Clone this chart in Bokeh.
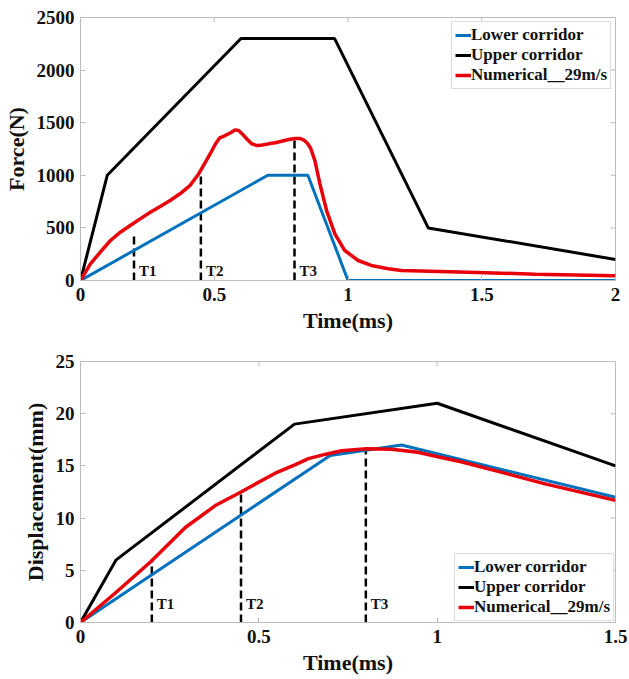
from bokeh.plotting import figure
from bokeh.layouts import column
from bokeh.models import FixedTicker, Legend, LegendItem, Range1d
from bokeh.core.properties import value
from bokeh.embed import file_html
from bokeh.resources import INLINE
import math

# ---- Force history (N) vs time (ms) ----
force_lower_t = [0, 0.7, 0.85, 1.0, 2.0]
force_lower_f = [0, 1000, 1000, 0, 0]
force_upper_t = [0, 0.1, 0.6, 0.95, 1.3, 2.0]
force_upper_f = [0, 1000, 2300, 2300, 500, 200]
force_num_t = [0, 0.037, 0.074, 0.112, 0.149, 0.186, 0.223, 0.261, 0.298, 0.335,
               0.372, 0.41, 0.441, 0.466, 0.486, 0.505, 0.52, 0.535, 0.55, 0.566,
               0.578, 0.591, 0.606, 0.622, 0.64, 0.659, 0.68, 0.703, 0.728, 0.752,
               0.778, 0.802, 0.82, 0.835, 0.848, 0.86, 0.876, 0.895, 0.92, 0.951,
               0.988, 1.038, 1.087, 1.15, 1.2, 1.45, 1.7, 2.0]
force_num_f = [0, 158, 269, 380, 459, 523, 586, 649, 703, 760,
               824, 905, 1010, 1120, 1210, 1300, 1355, 1370, 1390, 1412,
               1432, 1426, 1390, 1345, 1300, 1283, 1288, 1299, 1310, 1324,
               1340, 1350, 1350, 1335, 1305, 1260, 1141, 919, 665, 444,
               285, 190, 143, 112, 95, 79, 60, 45]

# ---- Displacement history (mm) vs time (ms) ----
disp_lower_t = [0, 0.7, 0.9, 1.5]
disp_lower_d = [0, 16, 17, 12]
disp_upper_t = [0, 0.1, 0.6, 1.0, 1.5]
disp_upper_d = [0, 6, 19, 21, 15]
disp_num_t = [0, 0.1, 0.196, 0.294, 0.378, 0.45, 0.546, 0.601, 0.639, 0.685,
              0.732, 0.802, 0.872, 0.946, 1.011, 1.067, 1.179, 1.3, 1.5]
disp_num_d = [0, 2.9, 5.8, 9.1, 11.2, 12.5, 14.3, 15.1, 15.7, 16.1,
              16.45, 16.65, 16.6, 16.3, 15.8, 15.4, 14.4, 13.3, 11.7]

# ---- Time instants T1..T3 ----
marker_t = [0.2, 0.45, 0.8]
marker_labels = ["T1", "T2", "T3"]
force_marker_top = [420, 1030, 1350]
disp_marker_top = [5.8, 12.4, 16.6]

# ---- Ticks ----
force_xticks = [0, 0.5, 1, 1.5, 2]
force_xlabels = ["0", "0.5", "1", "1.5", "2"]
force_yticks = [0, 500, 1000, 1500, 2000, 2500]
force_ylabels = ["0", "500", "1000", "1500", "2000", "2500"]
disp_xticks = [0, 0.5, 1, 1.5]
disp_xlabels = ["0", "0.5", "1", "1.5"]
disp_yticks = [0, 5, 10, 15, 20, 25]
disp_ylabels = ["0", "5", "10", "15", "20", "25"]

series_names = ["Lower corridor", "Upper corridor", "Numerical__29m/s"]
series_colors = ["#0072BD", "#000000", "#E8000B"]
series_widths = [3, 3, 3.5]

FONT = "Liberation Serif"
EDGE = "#bcbcbc"


def style_axis(axis, ticks, labels):
    axis.ticker = FixedTicker(ticks=ticks)
    axis.major_label_overrides = {t: l for t, l in zip(ticks, labels)}
    axis.minor_tick_line_color = None
    axis.major_tick_in = 5
    axis.major_tick_out = 0
    axis.major_tick_line_color = EDGE
    axis.axis_line_color = EDGE
    axis.major_label_text_font = FONT
    axis.major_label_text_font_style = "bold"
    axis.major_label_text_color = "#111111"
    axis.major_label_text_font_size = "19px"
    axis.axis_label_text_font = FONT
    axis.axis_label_text_font_style = "bold"
    axis.axis_label_text_font_size = "22px"
    axis.axis_label_text_color = "#111111"


def make_panel(x_end, y_end, xticks, xlabels, yticks, ylabels, ylabel,
               height, top_border, bottom_border,
               series, marker_top, label_y, legend_loc, legend_margin):
    p = figure(width=629, height=height,
               x_range=Range1d(0, x_end), y_range=Range1d(0, y_end),
               output_backend="svg", toolbar_location=None,
               min_border_left=78, min_border_right=14,
               min_border_top=top_border, min_border_bottom=bottom_border)
    p.grid.visible = False
    p.outline_line_color = EDGE
    p.background_fill_color = "white"
    p.border_fill_color = "white"

    style_axis(p.xaxis[0], xticks, xlabels)
    style_axis(p.yaxis[0], yticks, ylabels)
    p.xaxis[0].axis_label = "Time(ms)"
    p.xaxis[0].major_label_standoff = 7
    p.xaxis[0].axis_label_standoff = 4
    p.yaxis[0].axis_label = ylabel
    p.yaxis[0].major_label_standoff = 6
    p.yaxis[0].axis_label_standoff = 5

    # inward tick marks on the top and right edges of the box
    # (dash markers centred on the edge; the outer half is clipped by the frame)
    p.scatter(x=xticks, y=[y_end] * len(xticks), marker="dash", size=10,
              angle=math.pi / 2, line_color=EDGE, line_width=1)
    p.scatter(x=[x_end] * len(yticks), y=yticks, marker="dash", size=10,
              line_color=EDGE, line_width=1)

    # dashed markers for T1..T3
    p.segment(x0=marker_t, y0=[0] * len(marker_t), x1=marker_t, y1=marker_top,
              line_color="black", line_width=2.5, line_dash="8 4")
    p.text(x=marker_t, y=[label_y] * len(marker_t), text=marker_labels,
           x_offset=5, text_baseline="middle", text_align="left",
           text_font=value(FONT), text_font_style="bold",
           text_font_size="15px", text_color="#111111")

    items = []
    for (tx, ty), name, color, w in zip(series, series_names, series_colors, series_widths):
        r = p.line(tx, ty, line_color=color, line_width=w)
        items.append(LegendItem(label=name, renderers=[r]))

    legend = Legend(items=items, location=legend_loc)
    legend.margin = legend_margin
    legend.padding = 3
    legend.spacing = 0
    legend.glyph_width = 16
    legend.glyph_height = 20
    legend.label_height = 20
    legend.label_standoff = 0
    legend.label_text_font = FONT
    legend.label_text_font_style = "bold"
    legend.label_text_font_size = "17px"
    legend.label_text_color = "#111111"
    legend.border_line_color = EDGE
    legend.background_fill_alpha = 1
    p.add_layout(legend)
    return p


p_force = make_panel(2, 2500, force_xticks, force_xlabels, force_yticks, force_ylabels,
                     "Force(N)", 340, 17, 60,
                     [(force_lower_t, force_lower_f), (force_upper_t, force_upper_f),
                      (force_num_t, force_num_f)],
                     force_marker_top, 95, "top_right", 4)
p_disp = make_panel(1.5, 25, disp_xticks, disp_xlabels, disp_yticks, disp_ylabels,
                    "Displacement(mm)", 339, 21, 57,
                    [(disp_lower_t, disp_lower_d), (disp_upper_t, disp_upper_d),
                     (disp_num_t, disp_num_d)],
                    disp_marker_top, 1.8, "bottom_right", 1)

layout = column(p_force, p_disp, spacing=0)
open("out.html", "w").write(file_html(layout, INLINE))
